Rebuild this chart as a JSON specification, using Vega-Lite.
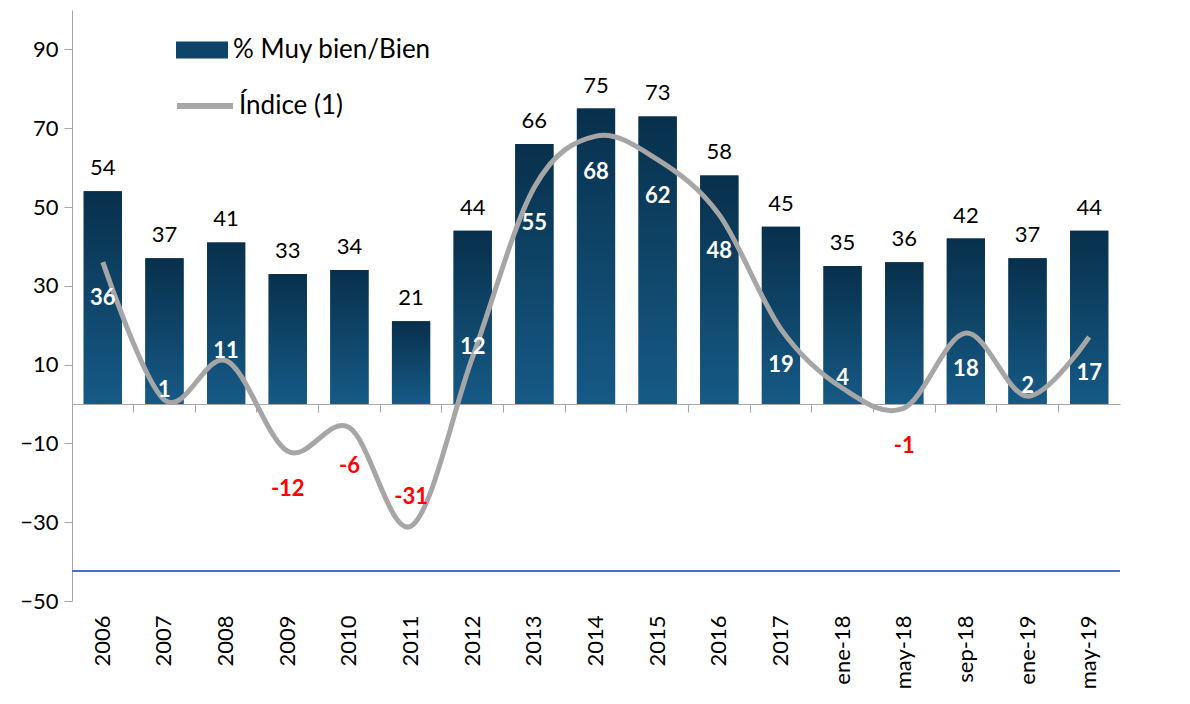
{
  "$schema": "https://vega.github.io/schema/vega-lite/v6.json",
  "width": 1048,
  "height": 591,
  "autosize": "none",
  "padding": {"left": 72, "top": 10, "right": 70, "bottom": 103},
  "background": "white",
  "config": {
    "font": "Lato",
    "view": {"stroke": null},
    "axis": {"labelFont": "Lato", "labelColor": "#000000"},
    "legend": {"labelFont": "Lato", "labelLimit": 400}
  },
  "data": {
    "values": [
      {"cat": "2006", "pct": 54, "idx": 36},
      {"cat": "2007", "pct": 37, "idx": 1},
      {"cat": "2008", "pct": 41, "idx": 11},
      {"cat": "2009", "pct": 33, "idx": -12},
      {"cat": "2010", "pct": 34, "idx": -6},
      {"cat": "2011", "pct": 21, "idx": -31},
      {"cat": "2012", "pct": 44, "idx": 12},
      {"cat": "2013", "pct": 66, "idx": 55},
      {"cat": "2014", "pct": 75, "idx": 68},
      {"cat": "2015", "pct": 73, "idx": 62},
      {"cat": "2016", "pct": 58, "idx": 48},
      {"cat": "2017", "pct": 45, "idx": 19},
      {"cat": "ene-18", "pct": 35, "idx": 4},
      {"cat": "may-18", "pct": 36, "idx": -1},
      {"cat": "sep-18", "pct": 42, "idx": 18},
      {"cat": "ene-19", "pct": 37, "idx": 2},
      {"cat": "may-19", "pct": 44, "idx": 17}
    ]
  },
  "resolve": {"axis": {"x": "independent"}},
  "layer": [
    {
      "mark": {"type": "bar", "stroke": null},
      "encoding": {
        "x": {
          "field": "cat", "type": "nominal", "sort": null,
          "scale": {"paddingInner": 0.38, "paddingOuter": 0.19},
          "axis": {
            "title": null, "domain": false, "ticks": false,
            "labelAngle": -90, "labelAlign": "right", "labelBaseline": "middle",
            "labelFontSize": 22, "labelPadding": 14
          }
        },
        "y": {
          "field": "pct", "type": "quantitative",
          "scale": {"domain": [-50, 100], "nice": false, "zero": false},
          "axis": {
            "title": null, "values": [-50, -30, -10, 10, 30, 50, 70, 90],
            "grid": false, "labelFontSize": 22, "tickSize": 8,
            "tickColor": "#a6a6a6", "domainColor": "#a6a6a6", "labelPadding": 6
          }
        },
        "fill": {
          "datum": "% Muy bien/Bien",
          "scale": {"range": ["#0e4468"]},
          "legend": {
            "title": null, "orient": "none", "legendX": 104, "legendY": 14,
            "symbolType": "M-1,-0.33L1,-0.33L1,0.33L-1,0.33Z", "symbolSize": 2704,
            "symbolStrokeWidth": 0, "labelFontSize": 26, "labelOffset": 5
          }
        }
      }
    },
    {
      "mark": {
        "type": "bar", "stroke": null,
        "fill": {"gradient": "linear", "x1": 0, "y1": 0, "x2": 0, "y2": 1, "stops": [{"offset": 0, "color": "#08304b"}, {"offset": 1, "color": "#165a86"}]}
      },
      "encoding": {
        "x": {"field": "cat", "type": "nominal", "sort": null, "axis": null},
        "y": {"field": "pct", "type": "quantitative"}
      }
    },
    {
      "mark": {"type": "rule", "color": "#4472c4", "strokeWidth": 1.3},
      "encoding": {"y": {"datum": -42.5, "type": "quantitative"}}
    },
    {
      "mark": {"type": "line", "interpolate": "cardinal", "strokeWidth": 5},
      "encoding": {
        "x": {
          "field": "cat", "type": "nominal", "sort": null,
          "axis": {
            "title": null, "labels": false, "orient": "bottom", "offset": -197,
            "domain": true, "domainColor": "#a6a6a6", "ticks": true, "tickSize": 8,
            "tickColor": "#a6a6a6", "bandPosition": -0.306
          }
        },
        "y": {"field": "idx", "type": "quantitative"},
        "stroke": {
          "datum": "Índice (1)",
          "scale": {"range": ["#a6a6a6"]},
          "legend": {
            "title": null, "orient": "none", "legendX": 102, "legendY": 65,
            "symbolType": "stroke", "symbolSize": 3136, "symbolStrokeWidth": 6,
            "labelFontSize": 26, "labelOffset": 3
          }
        }
      }
    },
    {
      "mark": {"type": "text", "fontSize": 22, "color": "#000000", "baseline": "alphabetic", "dy": -16},
      "encoding": {
        "x": {"field": "cat", "type": "nominal", "sort": null, "axis": null},
        "y": {"field": "pct", "type": "quantitative"},
        "text": {"field": "pct"}
      }
    },
    {
      "transform": [{"filter": "datum.idx > 15"}],
      "mark": {"type": "text", "fontSize": 22, "fontWeight": "bold", "color": "#ffffff", "baseline": "middle", "dy": 36},
      "encoding": {
        "x": {"field": "cat", "type": "nominal", "sort": null, "axis": null},
        "y": {"field": "idx", "type": "quantitative"},
        "text": {"field": "idx"}
      }
    },
    {
      "transform": [{"filter": "datum.idx >= 0 && datum.idx <= 15"}],
      "mark": {"type": "text", "fontSize": 22, "fontWeight": "bold", "color": "#ffffff", "baseline": "middle", "dy": -10},
      "encoding": {
        "x": {"field": "cat", "type": "nominal", "sort": null, "axis": null},
        "y": {"field": "idx", "type": "quantitative"},
        "text": {"field": "idx"}
      }
    },
    {
      "transform": [{"filter": "datum.idx < 0 && datum.idx > -20"}],
      "mark": {"type": "text", "fontSize": 22, "fontWeight": "bold", "color": "#ff0000", "baseline": "middle", "dy": 38},
      "encoding": {
        "x": {"field": "cat", "type": "nominal", "sort": null, "axis": null},
        "y": {"field": "idx", "type": "quantitative"},
        "text": {"field": "idx"}
      }
    },
    {
      "transform": [{"filter": "datum.idx <= -20"}],
      "mark": {"type": "text", "fontSize": 22, "fontWeight": "bold", "color": "#ff0000", "baseline": "middle", "dy": -29},
      "encoding": {
        "x": {"field": "cat", "type": "nominal", "sort": null, "axis": null},
        "y": {"field": "idx", "type": "quantitative"},
        "text": {"field": "idx"}
      }
    }
  ]
}
